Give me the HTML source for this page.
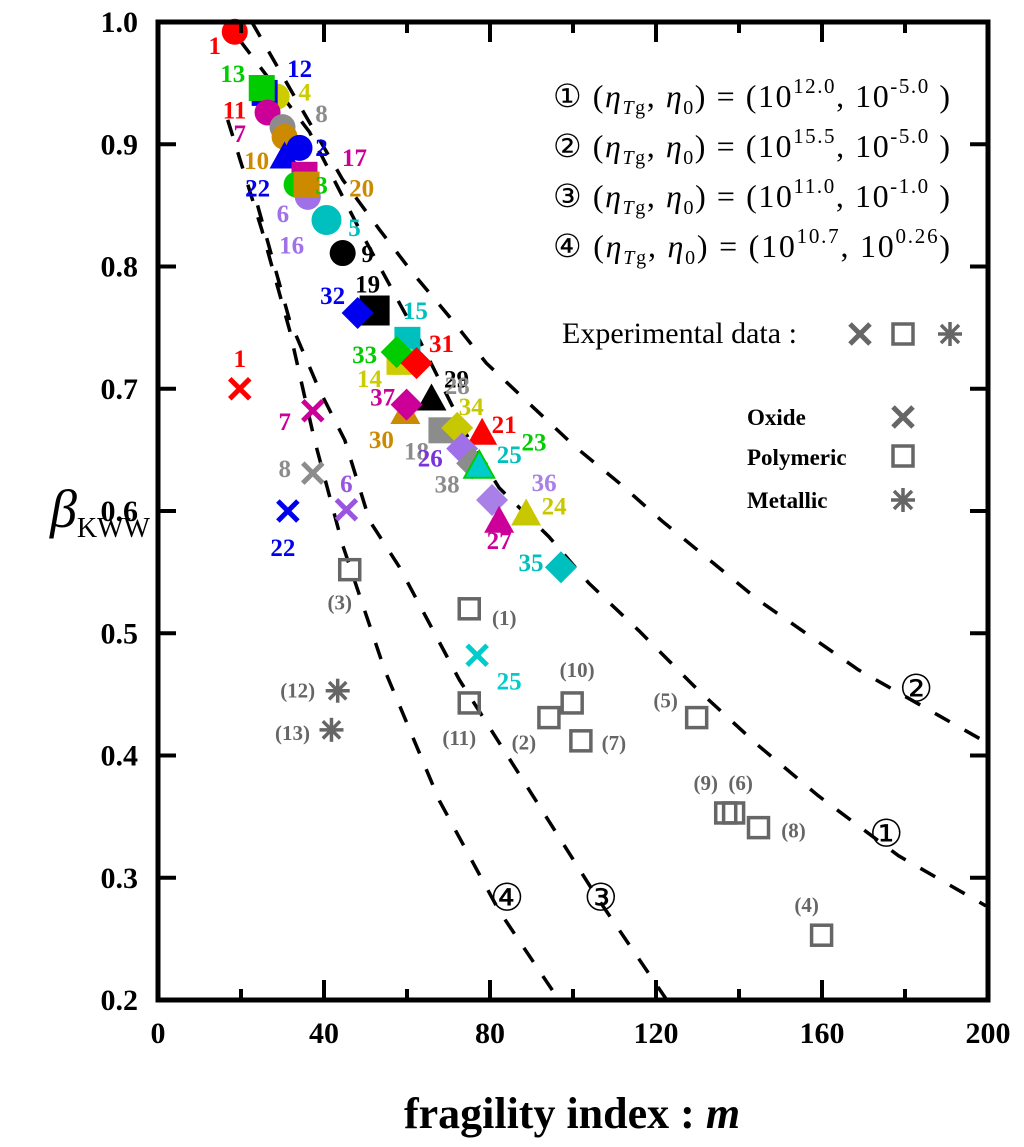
<!DOCTYPE html>
<html><head><meta charset="utf-8"><style>
html,body{margin:0;padding:0;background:#fff;}
svg{display:block;}
</style></head><body>
<svg id="chart" width="1024" height="1147" viewBox="0 0 1024 1147" xmlns="http://www.w3.org/2000/svg" font-family="'Liberation Serif', serif">
<g id="curves"></g>
<g id="marks"></g>
<g id="axes"></g>
<g id="legend"></g>
</svg>
<script>
// ---- axis data ----
const xTicks = [0,40,80,120,160,200];
const xMinor = [20,60,100,140,180];
const yTicks = [0.2,0.3,0.4,0.5,0.6,0.7,0.8,0.9,1.0];
const yTickLabels = ["0.2","0.3","0.4","0.5","0.6","0.7","0.8","0.9","1.0"];

// ---- model curves (m, beta) ----
const c2M = [22.6,33.4,44.5,53.4,61.3,70.2,79.1,89.4,100.7,111.1,121.4,144.7,168.8,188.0,199.5];
const c2B = [1.0,.936,.871,.830,.795,.759,.721,.688,.652,.623,.592,.527,.470,.433,.411];
const c1M = [19.7,36.5,48.6,63.0,75.0,82.2,94.2,103.8,115.9,130.3,144.7,159.1,178.4,199.5];
const c1B = [.985,.910,.830,.740,.658,.619,.579,.541,.502,.453,.408,.367,.318,.277];
const c4M = [16.8,25.0,31.7,37.7,44.5,54.6,67.8,82.2,96.6];
const c4B = [.920,.830,.748,.658,.572,.470,.363,.273,.2];
const c3M = [24.0,31.7,38.9,45.0,51.0,58.2,72.6,89.4,106.2,122.6];
const c3B = [.850,.756,.699,.658,.592,.554,.462,.372,.282,.2];
const curveTags = ["②","①","③","④"];
const curveTagM = [182.7,175.5,106.7,84.1];
const curveTagB = [.455,.336,.284,.284];

// ---- simulation points ----
const simIds   = [1,4,12,13,11,8,10,2,22,6,17,3,20,5,9,19,32,15,14,33,31,29,30,37,18,34,21,26,38,25,36,27,24,35];
const simM     = [18.5,28.6,25.7,25.0,26.4,30.0,30.5,34.1,30.5,36.1,35.3,33.4,35.8,40.6,44.5,52.2,48.1,60.1,58.2,57.5,62.3,65.9,59.6,59.9,68.3,72.1,78.1,73.3,75.7,77.4,80.5,82.2,88.7,97.1];
const simB     = [.992,.939,.942,.946,.926,.914,.906,.897,.890,.857,.875,.867,.867,.838,.811,.764,.762,.740,.722,.730,.721,.692,.681,.687,.666,.668,.664,.651,.639,.637,.609,.592,.598,.554];
const simShape = ["c","c","s","s","c","c","c","c","t","c","s","c","s","c","c","s","d","s","s","d","d","t","t","d","s","d","t","d","d","t","d","t","t","d"];
const simColor = ["#ff0000","#cccc00","#0000ee","#00cc00","#cc0099","#8c8c8c","#cc8a00","#0000ee","#0000ee","#a070e8","#cc0099","#00cc00","#cc8a00","#00bfbf","#000000","#000000","#0000ee","#00bfbf","#cccc00","#00cc00","#ff0000","#000000","#cc8a00","#cc0099","#8c8c8c","#c8c800","#ff0000","#a070e8","#8c8c8c","#00cccc","#a880e8","#cc0099","#c8c800","#00bfbf"];
const simLblColor = ["#ff0000","#cccc00","#0000ee","#00cc00","#ff0000","#8c8c8c","#cc8a00","#0000ee","#0000ee","#a070e8","#cc0099","#00cc00","#cc8a00","#00bfbf","#000000","#000000","#0000ee","#00bfbf","#cccc00","#00cc00","#ff0000","#000000","#cc8a00","#cc0099","#8c8c8c","#c8c800","#ff0000","#7733dd","#8c8c8c","#00bfbf","#a880e8","#cc0099","#c8c800","#00bfbf"];
const simLblDX = [-20,28,35,-29,-33,39,-28,22,-27,-25,50,25,55,28,25,-7,-25,8,-30,-32,25,25,-24,-24,-25,14,22,-32,-25,30,52,0,28,-30];
const simLblDY = [13,-5,-25,-15,-3,-14,23,-1,31,16,-18,0,3,7,0,-27,-18,-30,16,2,-20,-20,27,-8,20,-22,-9,9,20,-12,-18,19,-8,-5];
// extra labels without visible marks
const extraLbl = ["7","16","28","23"];
const extraM = [19.7,32.2,72.1,90.6];
const extraB = [.909,.818,.703,.657];
const extraColor = ["#cc0099","#a070e8","#8c8c8c","#00cc00"];

// ---- experimental ----
const oxIds = ["1","7","8","22","6","25"];
const oxM = [19.7,37.3,37.3,31.3,45.4,76.9];
const oxB = [.70,.682,.631,.60,.601,.482];
const oxColor = ["#ff0000","#cc0099","#8c8c8c","#0000ee","#9955dd","#00cccc"];
const oxDX = [0,-28,-28,-5,0,32];
const oxDY = [-31,10,-5,36,-27,25];

const polIds = ["(3)","(1)","(11)","(2)","(10)","(7)","(5)","(9)","(6)","(8)","(4)"];
const polM = [46.2,75,75,94.2,99.8,101.9,129.8,136.8,138.7,144.7,159.9];
const polB = [.552,.520,.443,.431,.443,.412,.431,.353,.353,.341,.253];
const polDX = [-10,35,-10,-25,5,33,-31,-20,7,35,-15];
const polDY = [33,9,35,25,-33,2,-17,-30,-30,3,-30];

const metIds = ["(12)","(13)"];
const metM = [43.3,41.8];
const metB = [.453,.421];
const metDX = [-40,-39];
const metDY = [0,3];

// ---- scales ----
const X0=158, X1=988, Y0=22, Y1=1000;
function xs(m){return X0+(m/200)*(X1-X0);}
function ys(b){return Y0+(1-b)/0.8*(Y1-Y0);}

const NS="http://www.w3.org/2000/svg";
function mk(tag,attrs,parent){const e=document.createElementNS(NS,tag);for(const k in attrs)e.setAttribute(k,attrs[k]);parent.appendChild(e);return e;}
const gC=document.getElementById('curves'), gM=document.getElementById('marks'), gA=document.getElementById('axes'), gL=document.getElementById('legend');

// curves
const curves=[[c2M,c2B,'curve-2'],[c1M,c1B,'curve-1'],[c3M,c3B,'curve-3'],[c4M,c4B,'curve-4']];
curves.forEach(c=>{
  let d='';
  c[0].forEach((m,i)=>{d+=(i?'L':'M')+xs(m).toFixed(1)+' '+ys(c[1][i]).toFixed(1);});
  const p=mk('path',{d:d,fill:'none',stroke:'#000','stroke-width':3.5,'stroke-dasharray':'17 17'},gC);
  
  
});
curveTags.forEach((t,i)=>{
  const e=mk('text',{x:xs(curveTagM[i]),y:ys(curveTagB[i])+13,'font-size':38,'text-anchor':'middle',fill:'#000'},gC);
  e.textContent=t;
  
  
});

// sim marks
simIds.forEach((id,i)=>{
  const cx=xs(simM[i]), cy=ys(simB[i]), col=simColor[i], sh=simShape[i];
  let e;
  if(sh==='c'){e=mk('circle',{cx:cx,cy:cy,r:(id===5?15:13),fill:col},gM);}
  else if(sh==='s'){const h=(id===19?15:13);e=mk('rect',{x:cx-h,y:cy-h,width:2*h,height:2*h,fill:col},gM);}
  else if(sh==='d'){const h=16;e=mk('polygon',{points:`${cx},${cy-h} ${cx+h},${cy} ${cx},${cy+h} ${cx-h},${cy}`,fill:col},gM);}
  else {const h=15;e=mk('polygon',{points:`${cx},${cy-h} ${cx+h},${cy+h*0.8} ${cx-h},${cy+h*0.8}`,fill:col,stroke:(id===25?'#00cc00':'none'),'stroke-width':2},gM);}
  
  
});
simIds.forEach((id,i)=>{
  const t=mk('text',{x:xs(simM[i])+simLblDX[i],y:ys(simB[i])+simLblDY[i]+9,'font-size':25,'font-weight':'bold','text-anchor':'middle',fill:simLblColor[i]},gM);
  t.textContent=id;
  
  
});
extraLbl.forEach((l,i)=>{
  const t=mk('text',{x:xs(extraM[i]),y:ys(extraB[i])+9,'font-size':25,'font-weight':'bold','text-anchor':'middle',fill:extraColor[i]},gM);
  t.textContent=l;
  
  
});

// markers helpers
function cross(cx,cy,col,s,parent){const g=mk('g',{stroke:col,'stroke-width':5,'stroke-linecap':'butt'},parent);
  mk('line',{x1:cx-s,y1:cy-s,x2:cx+s,y2:cy+s},g);mk('line',{x1:cx-s,y1:cy+s,x2:cx+s,y2:cy-s},g);return g;}
function osq(cx,cy,s,parent){return mk('rect',{x:cx-s,y:cy-s,width:2*s,height:2*s,fill:'none',stroke:'#666','stroke-width':3.5},parent);}
function ast(cx,cy,s,parent){const g=mk('g',{stroke:'#666','stroke-width':3.5},parent);
  mk('line',{x1:cx-s,y1:cy,x2:cx+s,y2:cy},g);mk('line',{x1:cx,y1:cy-s,x2:cx,y2:cy+s},g);
  const d=s*0.72;mk('line',{x1:cx-d,y1:cy-d,x2:cx+d,y2:cy+d},g);mk('line',{x1:cx-d,y1:cy+d,x2:cx+d,y2:cy-d},g);return g;}

oxIds.forEach((id,i)=>{
  const cx=xs(oxM[i]),cy=ys(oxB[i]);
  const g=cross(cx,cy,oxColor[i],10,gM);
  
  
  const t=mk('text',{x:cx+oxDX[i],y:cy+oxDY[i]+9,'font-size':25,'font-weight':'bold','text-anchor':'middle',fill:oxColor[i]},gM);
  t.textContent=id;
  
  
});
polIds.forEach((id,i)=>{
  const cx=xs(polM[i]),cy=ys(polB[i]);
  const r=osq(cx,cy,10,gM);
  
  
  const t=mk('text',{x:cx+polDX[i],y:cy+polDY[i]+7,'font-size':21,'font-weight':'bold','text-anchor':'middle',fill:'#666'},gM);
  t.textContent=id;
  
  
});
metIds.forEach((id,i)=>{
  const cx=xs(metM[i]),cy=ys(metB[i]);
  const g=ast(cx,cy,12,gM);
  
  
  const t=mk('text',{x:cx+metDX[i],y:cy+metDY[i]+7,'font-size':21,'font-weight':'bold','text-anchor':'middle',fill:'#666'},gM);
  t.textContent=id;
  
  
});

// axes
const frame=mk('rect',{x:X0,y:Y0,width:X1-X0,height:Y1-Y0,fill:'none',stroke:'#000','stroke-width':5},gA);


xTicks.forEach(m=>{
  const x=xs(m);
  mk('line',{x1:x,y1:Y1,x2:x,y2:Y1-20,stroke:'#000','stroke-width':4},gA);
  mk('line',{x1:x,y1:Y0,x2:x,y2:Y0+20,stroke:'#000','stroke-width':4},gA);
  const t=mk('text',{x:x,y:1043,'font-size':30,'font-weight':'bold','text-anchor':'middle'},gA);
  t.textContent=m;
  
  
});
xMinor.forEach(m=>{
  const x=xs(m);
  mk('line',{x1:x,y1:Y1,x2:x,y2:Y1-11,stroke:'#000','stroke-width':4},gA);
  mk('line',{x1:x,y1:Y0,x2:x,y2:Y0+11,stroke:'#000','stroke-width':4},gA);
});
yTicks.forEach((b,i)=>{
  const y=ys(b);
  mk('line',{x1:X0,y1:y,x2:X0+18,y2:y,stroke:'#000','stroke-width':4},gA);
  mk('line',{x1:X1,y1:y,x2:X1-18,y2:y,stroke:'#000','stroke-width':4},gA);
  const t=mk('text',{x:138,y:y+10,'font-size':30,'font-weight':'bold','text-anchor':'end'},gA);
  t.textContent=yTickLabels[i];
  
  
});
</script>
<svg style="position:absolute;left:0;top:0" width="1024" height="1147" font-family="'Liberation Serif', serif">
<text x="572" y="1128" font-size="44" font-weight="bold" text-anchor="middle">fragility index : <tspan font-style="italic">m</tspan></text>
<text x="50" y="527" font-size="54"><tspan font-style="italic">β</tspan><tspan font-size="28" dy="10">KWW</tspan></text>
<g font-size="32">
<text x="553" y="107" textLength="397" lengthAdjust="spacing">① (<tspan font-style="italic">η</tspan><tspan font-size="20" dy="7" font-style="italic">T</tspan><tspan font-size="20">g</tspan><tspan dy="-7">, </tspan><tspan font-style="italic">η</tspan><tspan font-size="20" dy="7">0</tspan><tspan dy="-7">) = (10</tspan><tspan font-size="21" dy="-14">12.0</tspan><tspan dy="14">, 10</tspan><tspan font-size="21" dy="-14">-5.0</tspan><tspan dy="14"> )</tspan></text>
<text x="553" y="157" textLength="397" lengthAdjust="spacing">② (<tspan font-style="italic">η</tspan><tspan font-size="20" dy="7" font-style="italic">T</tspan><tspan font-size="20">g</tspan><tspan dy="-7">, </tspan><tspan font-style="italic">η</tspan><tspan font-size="20" dy="7">0</tspan><tspan dy="-7">) = (10</tspan><tspan font-size="21" dy="-14">15.5</tspan><tspan dy="14">, 10</tspan><tspan font-size="21" dy="-14">-5.0</tspan><tspan dy="14"> )</tspan></text>
<text x="553" y="207" textLength="397" lengthAdjust="spacing">③ (<tspan font-style="italic">η</tspan><tspan font-size="20" dy="7" font-style="italic">T</tspan><tspan font-size="20">g</tspan><tspan dy="-7">, </tspan><tspan font-style="italic">η</tspan><tspan font-size="20" dy="7">0</tspan><tspan dy="-7">) = (10</tspan><tspan font-size="21" dy="-14">11.0</tspan><tspan dy="14">, 10</tspan><tspan font-size="21" dy="-14">-1.0</tspan><tspan dy="14"> )</tspan></text>
<text x="553" y="257" textLength="397" lengthAdjust="spacing">④ (<tspan font-style="italic">η</tspan><tspan font-size="20" dy="7" font-style="italic">T</tspan><tspan font-size="20">g</tspan><tspan dy="-7">, </tspan><tspan font-style="italic">η</tspan><tspan font-size="20" dy="7">0</tspan><tspan dy="-7">) = (10</tspan><tspan font-size="21" dy="-14">10.7</tspan><tspan dy="14">, 10</tspan><tspan font-size="21" dy="-14">0.26</tspan><tspan dy="14">)</tspan></text>
</g>
<g>
<text x="562" y="343" font-size="30">Experimental data :</text>
<g stroke="#666" stroke-width="5"><line x1="850" y1="324" x2="870" y2="344"/><line x1="850" y1="344" x2="870" y2="324"/></g>
<rect x="893" y="324" width="20" height="20" fill="none" stroke="#666" stroke-width="3.5"/>
<g stroke="#666" stroke-width="3.5"><line x1="938" y1="334" x2="962" y2="334"/><line x1="950" y1="322" x2="950" y2="346"/><line x1="941" y1="325" x2="959" y2="343"/><line x1="941" y1="343" x2="959" y2="325"/></g>
<text x="747" y="425" font-size="23" font-weight="bold">Oxide</text>
<g stroke="#666" stroke-width="5"><line x1="893" y1="407" x2="913" y2="427"/><line x1="893" y1="427" x2="913" y2="407"/></g>
<text x="747" y="465" font-size="23" font-weight="bold">Polymeric</text>
<rect x="893" y="446" width="20" height="20" fill="none" stroke="#666" stroke-width="3.5"/>
<text x="747" y="508" font-size="23" font-weight="bold">Metallic</text>
<g stroke="#666" stroke-width="3.5"><line x1="891" y1="500" x2="915" y2="500"/><line x1="903" y1="488" x2="903" y2="512"/><line x1="894" y1="491" x2="912" y2="509"/><line x1="894" y1="509" x2="912" y2="491"/></g>
</g>
</svg>
</body></html>
